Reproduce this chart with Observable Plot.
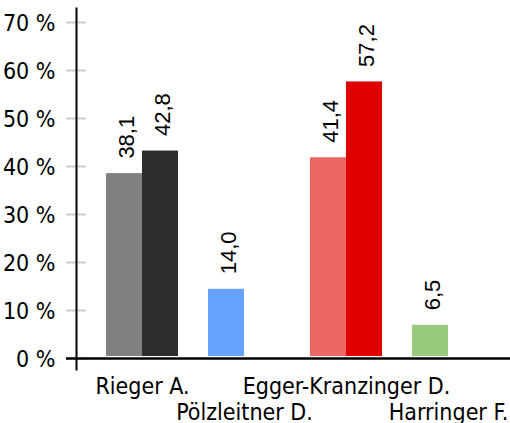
<!DOCTYPE html>
<html>
<head>
<meta charset="utf-8">
<script src="https://cdn.jsdelivr.net/npm/d3@7"></script>
<script src="https://cdn.jsdelivr.net/npm/@observablehq/plot@0.6"></script>
<style>
  html, body { margin: 0; padding: 0; background: #fff; }
  #chart svg { display: block; }
</style>
</head>
<body>
<div id="chart"></div>
<script>
// Data
const categories = ["Rieger A.", "Pölzleitner D.", "Egger-Kranzinger D.", "Harringer F."];
const firstValues = [38.1, 14.0, 41.4, 6.5];
const secondValues = [42.8, null, 57.2, null];
const firstColors = ["#808080", "#66a3ff", "#ec6666", "#99c97c"];
const secondColors = ["#2d2d2d", null, "#e00000", null];
const yTicks = [0, 10, 20, 30, 40, 50, 60, 70];

const first = categories.map((c, i) => ({cat: c, value: firstValues[i], color: firstColors[i]}));
const second = categories.map((c, i) => ({cat: c, value: secondValues[i], color: secondColors[i]}))
  .filter(d => d.value != null);

const fmt = v => v.toFixed(1).replace(".", ",");
const axisFont = "'DejaVu Sans Condensed', 'DejaVu Sans', sans-serif";
const labelFont = "'Liberation Sans', Arial, sans-serif";

const chart = Plot.plot({
  width: 510,
  height: 423,
  marginLeft: 91,
  marginRight: 11,
  marginTop: 22,
  marginBottom: 65,
  style: {fontFamily: axisFont, background: "#fff", overflow: "visible"},
  x: {domain: categories, paddingInner: 30 / 102, paddingOuter: 15 / 102, axis: null, label: null},
  y: {domain: [0, 70], axis: null, label: null},
  marks: [
    // y tick marks (grey, crossing the axis line)
    Plot.axisY(yTicks, {tickSize: 20, text: null, label: null, stroke: "#cccccc", strokeWidth: 2, dx: -5}),
    // y tick labels
    Plot.axisY(yTicks, {tickSize: 0, tickPadding: 0, label: null, dx: -36, dy: 1, tickFormat: d => d + " %", fontSize: 23, fill: "#000", stroke: null, fontFamily: axisFont}),
    // bars
    Plot.barY(first, {x: "cat", y: "value", fill: "color", insetRight: 36, dy: -2}),
    Plot.barY(second, {x: "cat", y: "value", fill: "color", insetLeft: 36, dy: -2}),
    // value labels
    Plot.text(first, {x: "cat", y: "value", text: d => fmt(d.value), rotate: -90, textAnchor: "start", dx: -18 + 2.5, dy: -17, fontSize: 22, fontFamily: labelFont, fill: "#000"}),
    Plot.text(second, {x: "cat", y: "value", text: d => fmt(d.value), rotate: -90, textAnchor: "start", dx: 18 + 2.5, dy: -17, fontSize: 22, fontFamily: labelFont, fill: "#000"}),
    // axis lines
    Plot.ruleY([0], {stroke: "#000", strokeWidth: 2.5, insetLeft: -25, insetRight: -11}),
    Plot.frame({anchor: "left", stroke: "#000", strokeWidth: 2, dx: -15, insetTop: -14, insetBottom: -11}),
    // x labels, staggered
    Plot.axisX(categories.filter((d, i) => i % 2 === 0), {tickSize: 0, tickPadding: 19, label: null, fontSize: 23, fontFamily: axisFont, fill: "#000"}),
    Plot.axisX(categories.filter((d, i) => i % 2 === 1), {tickSize: 0, tickPadding: 45, label: null, fontSize: 23, fontFamily: axisFont, fill: "#000"})
  ]
});
document.getElementById("chart").appendChild(chart);
</script>
</body>
</html>
